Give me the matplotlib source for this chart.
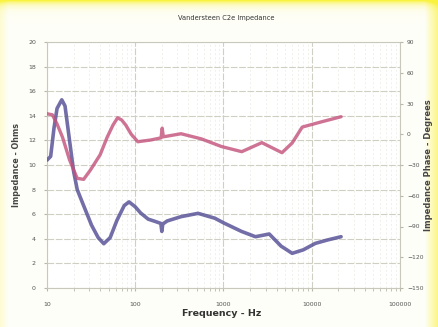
import numpy as np
import matplotlib
matplotlib.use("Agg")
import matplotlib.pyplot as plt
from matplotlib.ticker import FixedLocator, NullFormatter, LogLocator

# Impedance magnitude (ohms) vs frequency (Hz)
imp_freq = [10, 11, 12, 13, 14.7, 16, 18, 20, 22, 26, 32, 38, 44, 52, 62, 75, 85,
            100, 115, 140, 170, 195, 200, 205, 230, 330, 515, 800, 1000, 1600,
            2300, 3300, 4500, 6000, 8000, 11000, 15000, 21500]
imp_ohms = [10.4, 10.7, 13.0, 14.6, 15.3, 14.8, 12.0, 9.5, 8.0, 6.7, 5.1, 4.1, 3.6,
            4.1, 5.5, 6.7, 7.0, 6.6, 6.1, 5.6, 5.4, 5.25, 4.6, 5.2, 5.45, 5.8,
            6.07, 5.67, 5.3, 4.6, 4.17, 4.39, 3.4, 2.82, 3.1, 3.63, 3.9, 4.17]

# Impedance phase (degrees) vs frequency (Hz)
ph_freq = [10, 11.5, 13, 15, 18, 22, 26, 31, 40, 48, 56, 63, 70, 78, 90, 107, 150,
           196, 202, 208, 330, 560, 950, 1610, 2720, 4600, 6000, 7800, 13000, 21500]
ph_deg = [20, 19, 10, -3, -25, -43, -44, -35, -20, -3, 9, 16, 14, 9, 0, -7.3, -5.6,
          -3.5, 6, -2.5, 0.5, -4.5, -12, -17, -8.2, -18, -8.5, 7, 12.2, 17.1]

left_ticks = list(range(0, 21, 2))
right_ticks = list(range(-150, 91, 30))
x_ticks = [10, 100, 1000, 10000, 100000]
x_labels = ["10", "100", "1000", "10000", "100000"]

W, H = 439, 327
fig = plt.figure(figsize=(W / 100, H / 100), dpi=100)
fig.patch.set_facecolor("#fefef6")

# paper tint: warm yellow along the top and right edges
bg = fig.add_axes([0, 0, 1, 1], zorder=-10)
yy, xx = np.mgrid[0:H, 0:W]
base = np.array([0.997, 0.997, 0.975])
yellow = np.array([0.98, 0.95, 0.25])
t = np.clip(np.exp(-yy / 4.0) + np.clip((xx - 424) / 15.0, 0, 1) * 0.7
            + np.clip((8 - xx) / 8.0, 0, 1) * 0.2, 0, 1)
img = base[None, None, :] * (1 - t[..., None]) + yellow[None, None, :] * t[..., None]
bg.imshow(img, extent=[0, 1, 0, 1], aspect="auto", origin="upper",
          interpolation="nearest")
bg.set_xlim(0, 1)
bg.set_ylim(0, 1)
bg.axis("off")

ax = fig.add_axes([47 / W, 1 - 288 / H, 353 / W, 246 / H])
ax.set_facecolor("white")
ax.set_xscale("log")
ax.set_xlim(10, 100000)
ax.set_ylim(0, 20)

ax.xaxis.set_major_locator(FixedLocator(x_ticks))
ax.set_xticklabels(x_labels)
ax.xaxis.set_minor_locator(LogLocator(base=10, subs=np.arange(2, 10)))
ax.xaxis.set_minor_formatter(NullFormatter())
ax.set_yticks(left_ticks)

ax.grid(True, which="major", axis="both", color="#cfcfc4", lw=0.8, ls=(0, (6, 1.5)))
ax.grid(True, which="minor", axis="x", color="#ececE4", lw=0.5, ls=(0, (3, 3)))
ax.set_axisbelow(True)

for s in ax.spines.values():
    s.set_color("#c8c8bc")
    s.set_linewidth(0.8)

ax.tick_params(axis="both", which="both", length=2, color="#b8b8ac",
               labelsize=4.5, labelcolor="#555555", pad=6)
ax.tick_params(axis="x", pad=8)

ax2 = ax.twinx()
ax2.set_ylim(-150, 90)
ax2.set_yticks(right_ticks)
for s in ax2.spines.values():
    s.set_visible(False)
ax2.tick_params(axis="y", length=2, color="#b8b8ac", labelsize=4.3,
                labelcolor="#555555", pad=3)

ax.plot(imp_freq, imp_ohms, color="#5a5598", lw=2.6, alpha=0.85,
        solid_joinstyle="round", solid_capstyle="round", zorder=4)
ax2.plot(ph_freq, ph_deg, color="#c2507a", lw=2.4, alpha=0.8,
         solid_joinstyle="round", solid_capstyle="round", zorder=3)

fig.text(226 / W, 1 - 18 / H, "Vandersteen C2e Impedance", ha="center", va="center",
         fontsize=4.8, color="#333333")
fig.text(17 / W, 1 - 165 / H, "Impedance - Ohms", rotation=90, ha="center",
         va="center", fontsize=5.8, fontweight="bold", color="#444444")
fig.text(429 / W, 1 - 165 / H, "Impedance Phase - Degrees", rotation=90, ha="center",
         va="center", fontsize=6.0, fontweight="bold", color="#444444")
fig.text(222 / W, 1 - 313 / H, "Frequency - Hz", ha="center", va="center",
         fontsize=6.8, fontweight="bold", color="#333333")

fig.savefig("out.png", dpi=100, facecolor=fig.get_facecolor())
